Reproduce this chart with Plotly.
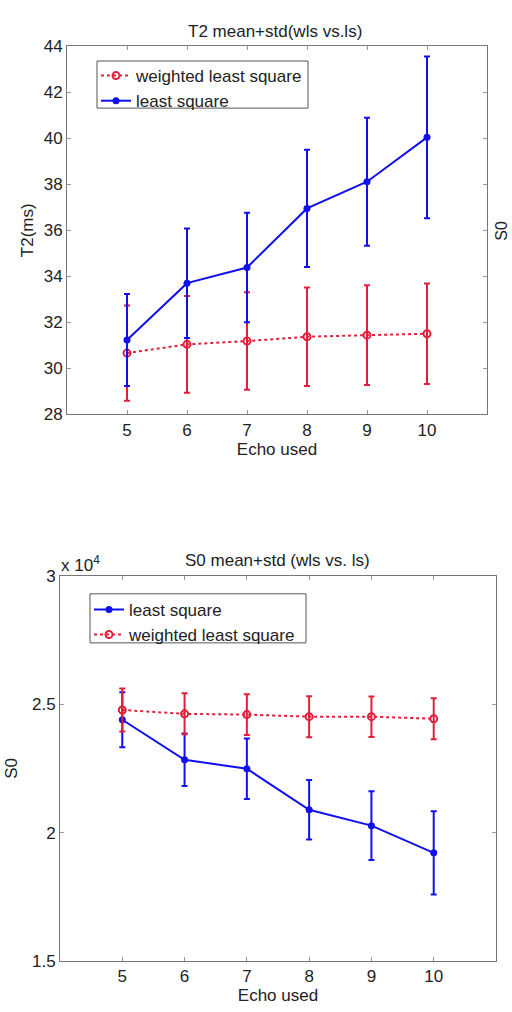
import plotly.graph_objects as go

# ---- data ----
echoes = [5, 6, 7, 8, 9, 10]

t2_ls_mean = [31.23, 33.70, 34.38, 36.95, 38.11, 40.04]
t2_ls_std = [2.00, 2.38, 2.38, 2.55, 2.78, 3.52]
t2_wls_mean = [30.66, 31.04, 31.18, 31.37, 31.44, 31.50]
t2_wls_std = [2.07, 2.10, 2.12, 2.14, 2.17, 2.18]

s0_ls_mean = [24400, 22840, 22490, 20890, 20270, 19210]
s0_ls_std = [1070, 1020, 1180, 1160, 1340, 1620]
s0_wls_mean = [24780, 24630, 24600, 24520, 24520, 24440]
s0_wls_std = [840, 800, 790, 800, 790, 800]

t2_yticks = [28, 30, 32, 34, 36, 38, 40, 42, 44]
s0_yticks = [15000, 20000, 25000, 30000]
s0_yticklabels = ["1.5", "2", "2.5", "3"]
x_ticks = [5, 6, 7, 8, 9, 10]

BLUE = "#1010F0"
RED = "#E0203A"
TXT = "#222222"
FONT = "Liberation Sans, Arial, sans-serif"

W, H = 512, 1012


def px(x):
    return x / W


def py(y):
    return 1 - y / H


fig = go.Figure()

# top chart (legend order: WLS, LS)
fig.add_trace(go.Scatter(
    x=echoes, y=t2_wls_mean, name="weighted least square",
    mode="lines+markers", xaxis="x", yaxis="y", legend="legend",
    line=dict(color=RED, width=2, dash="dot"),
    marker=dict(symbol="circle-open", size=7, color=RED, line=dict(width=2)),
    error_y=dict(type="data", array=t2_wls_std, color=RED, thickness=2, width=3),
))
fig.add_trace(go.Scatter(
    x=echoes, y=t2_ls_mean, name="least square",
    mode="lines+markers", xaxis="x", yaxis="y", legend="legend",
    line=dict(color=BLUE, width=2),
    marker=dict(symbol="circle", size=7, color=BLUE),
    error_y=dict(type="data", array=t2_ls_std, color=BLUE, thickness=2, width=3),
))

# bottom chart (legend order: LS, WLS)
fig.add_trace(go.Scatter(
    x=echoes, y=s0_ls_mean, name="least square",
    mode="lines+markers", xaxis="x2", yaxis="y2", legend="legend2",
    line=dict(color=BLUE, width=2),
    marker=dict(symbol="circle", size=7, color=BLUE),
    error_y=dict(type="data", array=s0_ls_std, color=BLUE, thickness=2, width=3),
))
fig.add_trace(go.Scatter(
    x=echoes, y=s0_wls_mean, name="weighted least square",
    mode="lines+markers", xaxis="x2", yaxis="y2", legend="legend2",
    line=dict(color=RED, width=2, dash="dot"),
    marker=dict(symbol="circle-open", size=7, color=RED, line=dict(width=2)),
    error_y=dict(type="data", array=s0_wls_std, color=RED, thickness=2, width=3),
))

axis_common = dict(
    showline=True, linecolor="#777777", linewidth=1, mirror="ticks",
    ticks="inside", ticklen=4, tickcolor="#999999",
    showgrid=False, zeroline=False,
    tickfont=dict(family=FONT, size=17, color=TXT),
)

legend_common = dict(
    xanchor="left", yanchor="top",
    bgcolor="rgba(0,0,0,0)", borderwidth=0,
    font=dict(family=FONT, size=17, color=TXT),
    tracegroupgap=0, itemwidth=30,
)

fig.update_layout(
    width=W, height=H,
    margin=dict(l=0, r=0, t=0, b=0),
    paper_bgcolor="white", plot_bgcolor="white",
    font=dict(family=FONT, size=17, color=TXT),
    xaxis=dict(domain=[px(67), px(487)], anchor="y", range=[4, 11],
               tickvals=x_ticks,
               title=dict(text="Echo used", standoff=2,
                          font=dict(family=FONT, size=17)),
               **axis_common),
    yaxis=dict(domain=[py(413), py(38)], anchor="x", range=[28, 44],
               tickvals=t2_yticks,
               title=dict(text="T2(ms)", standoff=5,
                          font=dict(family=FONT, size=17)),
               **axis_common),
    xaxis2=dict(domain=[px(60), px(496)], anchor="y2", range=[4, 11],
                tickvals=x_ticks,
                title=dict(text="Echo used", standoff=2,
                           font=dict(family=FONT, size=17)),
                **axis_common),
    yaxis2=dict(domain=[py(970), py(578)], anchor="x2",
                range=[15000, 30000],
                tickvals=s0_yticks, ticktext=s0_yticklabels,
                title=dict(text="S0", standoff=9,
                           font=dict(family=FONT, size=17)),
                **axis_common),
    legend=dict(x=px(96), y=py(50), **legend_common),
    legend2=dict(x=px(89), y=py(594), **legend_common),
    showlegend=True,
)

# legend frames (white boxes with thin dark border)
for (x0, x1, y0, y1) in [(97, 308, 53, 101), (90, 306, 596, 646)]:
    fig.add_shape(type="rect", xref="paper", yref="paper",
                  x0=px(x0), x1=px(x1), y0=py(y1), y1=py(y0),
                  line=dict(color="#555555", width=1),
                  fillcolor="white", layer="above")

fig.add_annotation(text="T2 mean+std(wls vs.ls)", xref="paper", yref="paper",
                   x=px(275), y=py(23), showarrow=False,
                   xanchor="center", yanchor="middle",
                   font=dict(family=FONT, size=17, color=TXT))
fig.add_annotation(text="S0 mean+std (wls vs. ls)", xref="paper", yref="paper",
                   x=px(277), y=py(562), showarrow=False,
                   xanchor="center", yanchor="middle",
                   font=dict(family=FONT, size=17, color=TXT))
fig.add_annotation(text="x 10<sup>4</sup>", xref="paper", yref="paper",
                   x=px(59), y=py(566), showarrow=False,
                   xanchor="left", yanchor="middle",
                   font=dict(family=FONT, size=17, color=TXT))
fig.add_annotation(text="S0", xref="paper", yref="paper",
                   x=px(502), y=py(226), showarrow=False, textangle=-90,
                   xanchor="center", yanchor="middle",
                   font=dict(family=FONT, size=16, color=TXT))

fig.write_html(
    "out.html",
    config={"displayModeBar": False},
    post_script="document.body.style.margin='0px';"
                "document.documentElement.style.overflow='hidden';",
)
